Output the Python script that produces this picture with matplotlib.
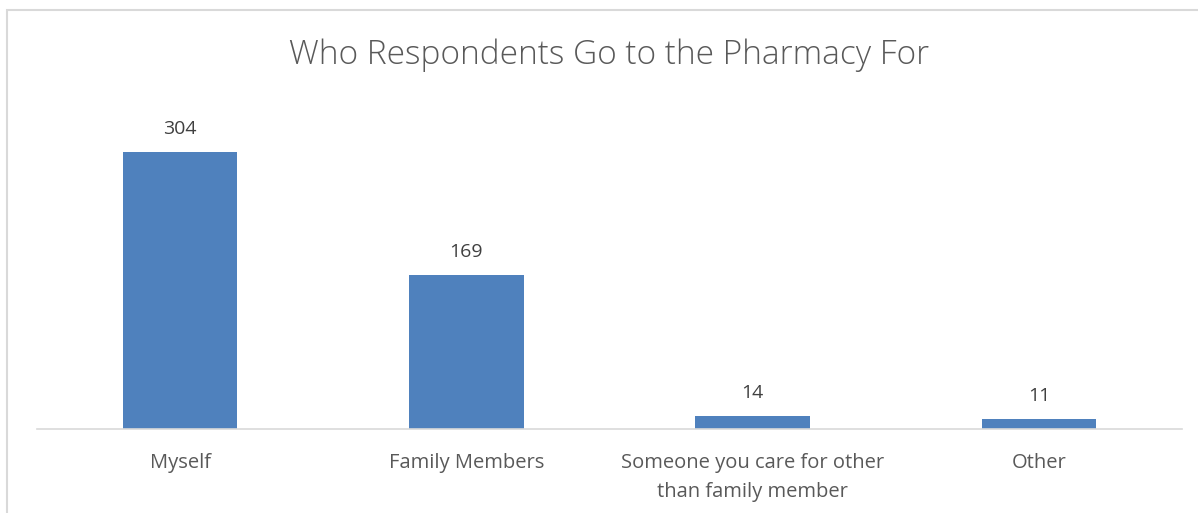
import matplotlib.pyplot as plt
from matplotlib.patches import Rectangle

categories = ['Myself', 'Family Members', 'Someone you care for other\nthan family member', 'Other']
counts = [304, 169, 14, 11]

plt.rcParams['font.family'] = ['Open Sans', 'DejaVu Sans']
text_color = '#595959'

fig = plt.figure(figsize=(11.98, 5.13), dpi=100)
ax = fig.add_axes([37 / 1198, 1 - 429 / 513, (1182 - 37) / 1198, (429 - 110) / 513])

x = range(len(categories))
bars = ax.bar(x, counts, width=0.4, color='#4F81BD', zorder=2)

# value labels above each bar
for rect, v in zip(bars, counts):
    ax.annotate(str(v), (rect.get_x() + rect.get_width() / 2, rect.get_height()),
                xytext=(0, 10), textcoords='offset points',
                ha='center', va='bottom', fontsize=14, color='#404040')

ax.set_xlim(-0.5, len(categories) - 0.5)
ax.set_ylim(0, 350)
ax.set_xticks(list(x))
ax.set_xticklabels(categories, fontsize=14.5, color=text_color, linespacing=1.6)
ax.tick_params(axis='x', length=0, pad=17)
ax.set_yticks([])

for side in ['top', 'right', 'left']:
    ax.spines[side].set_visible(False)
ax.spines['bottom'].set_color('#D9D9D9')
ax.spines['bottom'].set_linewidth(1.2)

fig.text(609 / 1198, 1 - 55 / 513, 'Who Respondents Go to the Pharmacy For',
         ha='center', va='center', fontsize=24, color=text_color, fontweight='light')

# outer chart border
fig.patches.append(Rectangle((7 / 1198, -0.1), 1.1, 1 - 10 / 513 + 0.1,
                             transform=fig.transFigure, fill=False,
                             edgecolor='#D9D9D9', linewidth=1.5))

fig.savefig('out.png', dpi=100, facecolor='white')
